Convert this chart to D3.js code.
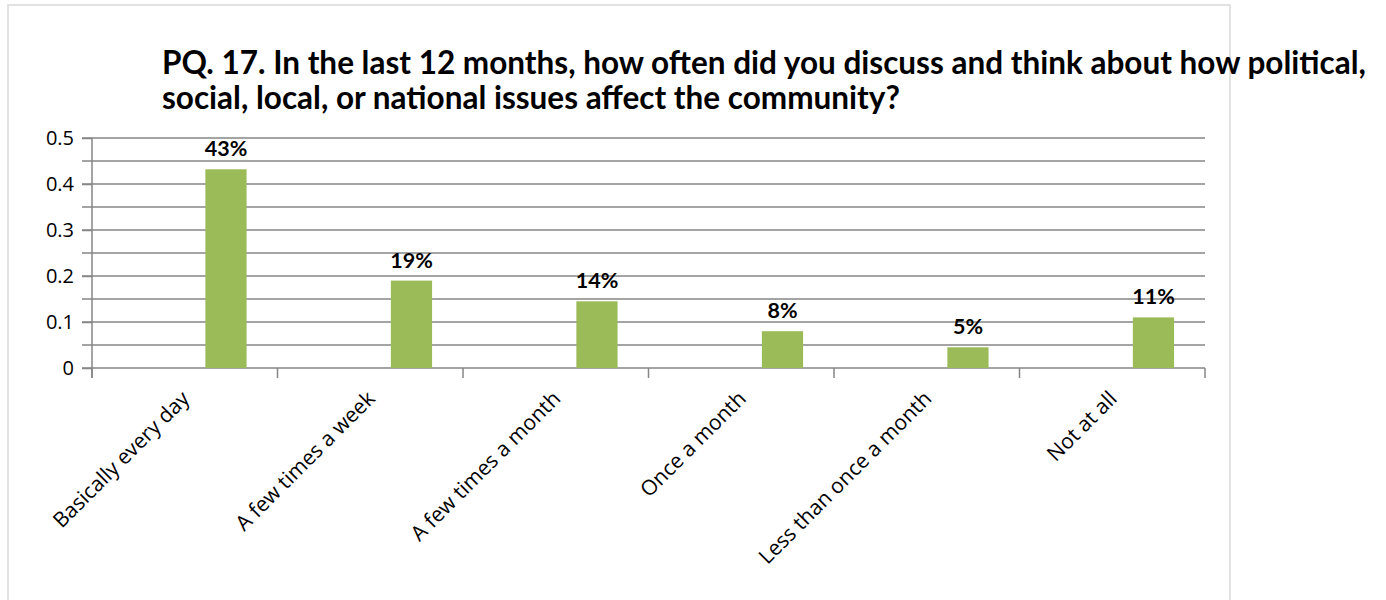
<!DOCTYPE html>
<html>
<head>
<meta charset="utf-8">
<script src="https://cdn.jsdelivr.net/npm/d3@7"></script>
<style>
  body { margin: 0; background: #fff; }
  svg { display: block; }
</style>
</head>
<body>
<div id="container"></div>
<script>
/* DATA */
const categories = ["Basically every day", "A few times a week", "A few times a month", "Once a month", "Less than once a month", "Not at all"];
const values = [0.432, 0.19, 0.145, 0.08, 0.045, 0.11];
const valueLabels = ["43%", "19%", "14%", "8%", "5%", "11%"];
const yTicks = [0, 0.1, 0.2, 0.3, 0.4, 0.5];
const gridValues = [0, 0.05, 0.1, 0.15, 0.2, 0.25, 0.3, 0.35, 0.4, 0.45, 0.5];
const titleLines = [
  "PQ. 17. In the last 12 months, how often did you discuss and think about how political,",
  "social, local, or national issues affect the community?"
];

/* CONSTANTS */
const width = 1386, height = 600,
  margin = { top: 138, bottom: 232, left: 92, right: 181 };

const svg = d3.select("#container")
  .append("svg")
  .attr("width", width)
  .attr("height", height);

// outer frame of the chart area
svg.append("rect")
  .attr("x", 8).attr("y", 5)
  .attr("width", 1222).attr("height", 620)
  .attr("fill", "none")
  .attr("stroke", "#d9d9d9")
  .attr("stroke-width", 1.5);

/* SCALES */
const xScale = d3.scaleBand()
  .domain(categories)
  .range([margin.left, width - margin.right])
  .padding(0);

// excel layout: three series slots per category, only the third has data
const slotScale = d3.scaleBand()
  .domain([0, 1, 2])
  .range([0, xScale.bandwidth()])
  .paddingInner(0)
  .paddingOuter(0.75);

const yScale = d3.scaleLinear()
  .domain([0, 0.5])
  .range([height - margin.bottom, margin.top]);

// gridlines (they run past the axis as the tick marks)
svg.append("g")
  .selectAll("line")
  .data(gridValues)
  .join("line")
  .attr("x1", margin.left - 10)
  .attr("x2", width - margin.right)
  .attr("y1", d => yScale(d))
  .attr("y2", d => yScale(d))
  .attr("stroke", "#868686")
  .attr("stroke-width", 1.5);

// y axis
const yAxis = d3.axisLeft(yScale)
  .tickValues(yTicks)
  .tickFormat(d => d === 0 ? "0" : d3.format(".1f")(d))
  .tickSize(10)
  .tickPadding(8);
const yG = svg.append("g")
  .attr("transform", `translate(${margin.left}, 0)`)
  .call(yAxis)
  .attr("font-family", "'Open Sans', sans-serif")
  .attr("font-size", 20);
yG.select(".domain").remove();
yG.selectAll("line").attr("stroke", "#868686").attr("stroke-width", 1.5);
yG.selectAll("text").attr("fill", "#000");

svg.append("line")
  .attr("x1", margin.left).attr("x2", margin.left)
  .attr("y1", yScale(0.5)).attr("y2", yScale(0) + 10)
  .attr("stroke", "#868686").attr("stroke-width", 1.5);

// x axis: ticks on category boundaries
const bounds = categories.map(c => xScale(c)).concat([xScale.range()[1]]);
svg.append("g")
  .selectAll("line")
  .data(bounds)
  .join("line")
  .attr("x1", d => d).attr("x2", d => d)
  .attr("y1", yScale(0)).attr("y2", yScale(0) + 10)
  .attr("stroke", "#868686").attr("stroke-width", 1.5);

svg.append("g")
  .attr("font-family", "'Open Sans', sans-serif")
  .attr("font-size", 21)
  .selectAll("text")
  .data(categories)
  .join("text")
  .attr("transform", d => `translate(${xScale(d) + xScale.bandwidth() / 2 + 6}, ${yScale(0) + 32}) rotate(-45)`)
  .attr("text-anchor", "end")
  .attr("fill", "#000")
  .text(d => d);

// bars
svg.append("g")
  .selectAll("rect")
  .data(values)
  .join("rect")
  .attr("x", (d, i) => xScale(categories[i]) + slotScale(2))
  .attr("width", slotScale.bandwidth())
  .attr("y", d => yScale(d))
  .attr("height", d => yScale(0) - yScale(d))
  .attr("fill", "#9bbb59");

// value labels
svg.append("g")
  .attr("font-family", "Lato, sans-serif")
  .attr("font-weight", "bold")
  .attr("font-size", 21.5)
  .selectAll("text")
  .data(values)
  .join("text")
  .attr("x", (d, i) => xScale(categories[i]) + slotScale(2) + slotScale.bandwidth() / 2)
  .attr("y", d => yScale(d) - 13)
  .attr("text-anchor", "middle")
  .attr("fill", "#000")
  .text((d, i) => valueLabels[i]);

// title
svg.append("text")
  .attr("font-family", "Lato, sans-serif")
  .attr("font-weight", "bold")
  .attr("font-size", 31.5)
  .attr("fill", "#000")
  .selectAll("tspan")
  .data(titleLines)
  .join("tspan")
  .attr("x", 162)
  .attr("y", (d, i) => 74 + i * 35)
  .text(d => d);
</script>
</body>
</html>
